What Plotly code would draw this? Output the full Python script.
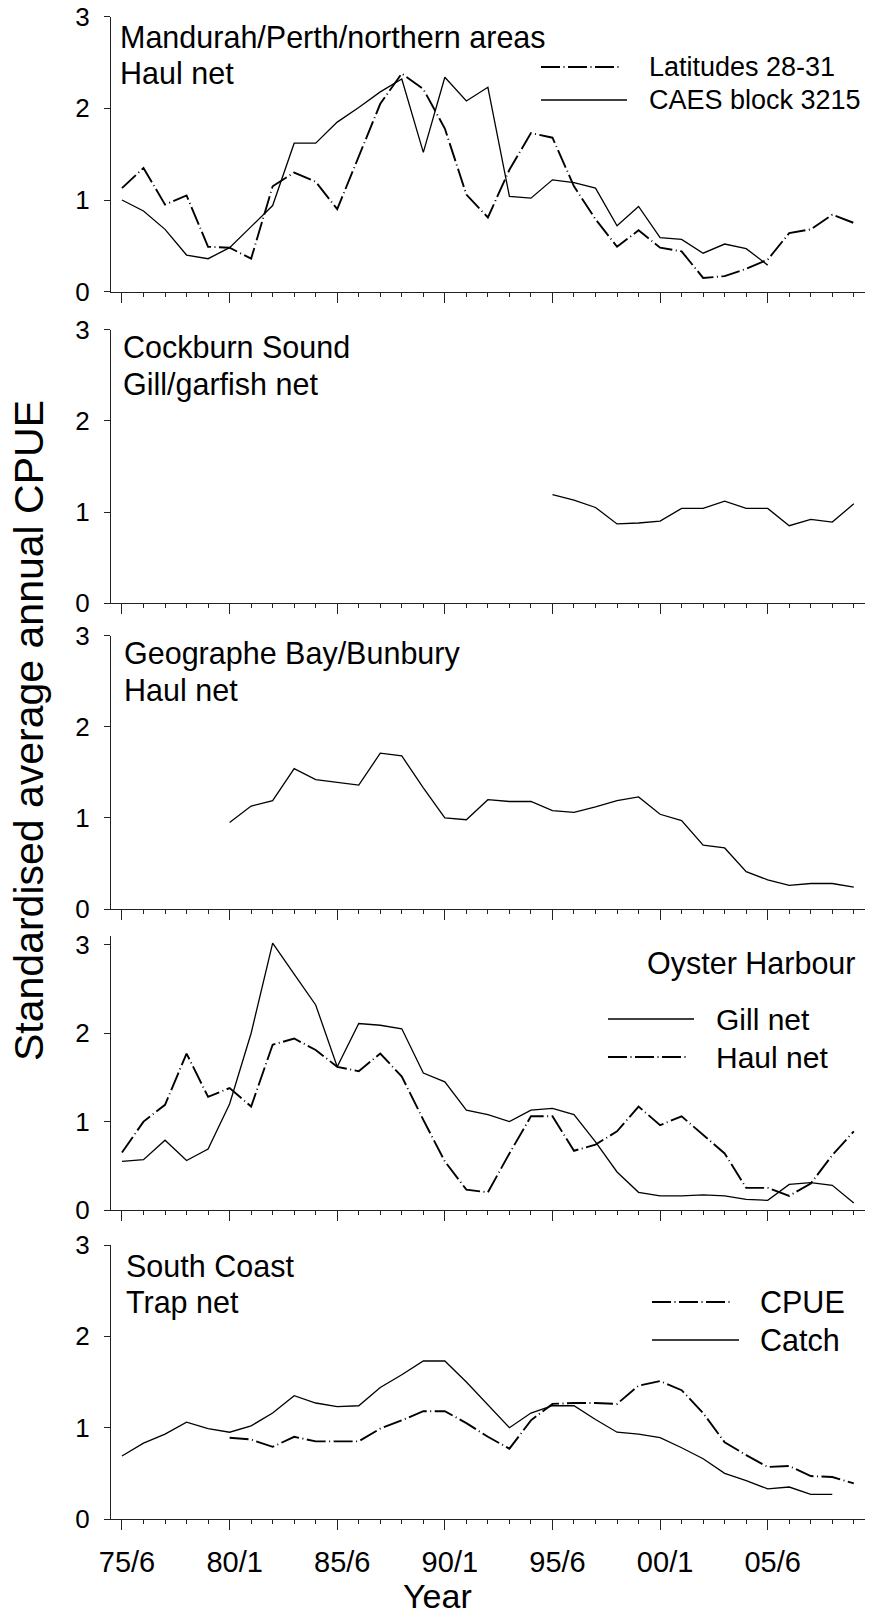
import plotly.graph_objects as go

W, H = 869, 1618
FONT = "Liberation Sans, Arial, Helvetica, sans-serif"

# ---- data -------------------------------------------------------------
# Mandurah/Perth/northern areas, haul net
lat_years = list(range(1975, 2010))
lat_28_31 = [1.13, 1.35, 0.95, 1.05, 0.49, 0.48, 0.36, 1.15, 1.30, 1.20,
             0.90, 1.48, 2.05, 2.38, 2.21, 1.78, 1.06, 0.81, 1.33, 1.73,
             1.68, 1.15, 0.79, 0.49, 0.67, 0.48, 0.44, 0.15, 0.17, 0.25,
             0.35, 0.64, 0.68, 0.84, 0.75]
caes_years = list(range(1975, 2006))
caes_3215 = [1.00, 0.88, 0.68, 0.40, 0.36, 0.48, 0.71, 0.94, 1.62, 1.62,
             1.85, 2.01, 2.18, 2.32, 1.52, 2.34, 2.08, 2.23, 1.04, 1.02,
             1.22, 1.19, 1.13, 0.72, 0.93, 0.59, 0.57, 0.42, 0.52, 0.47,
             0.29]

# Cockburn Sound, gill/garfish net
cockburn_years = list(range(1995, 2010))
cockburn = [1.19, 1.13, 1.05, 0.87, 0.88, 0.90, 1.04, 1.04, 1.12, 1.04,
            1.04, 0.85, 0.92, 0.89, 1.09]

# Geographe Bay/Bunbury, haul net
geographe_years = list(range(1980, 2010))
geographe = [0.95, 1.13, 1.19, 1.54, 1.42, 1.39, 1.36, 1.71, 1.68, 1.33,
             1.00, 0.98, 1.20, 1.18, 1.18, 1.08, 1.06, 1.12, 1.19, 1.23,
             1.04, 0.97, 0.70, 0.67, 0.41, 0.32, 0.26, 0.28, 0.28, 0.24]

# Oyster Harbour
oyster_years = list(range(1975, 2010))
oyster_gill = [0.55, 0.57, 0.79, 0.56, 0.69, 1.20, 2.00, 3.02, 2.67, 2.32,
               1.62, 2.11, 2.09, 2.05, 1.55, 1.45, 1.13, 1.08, 1.00, 1.13,
               1.15, 1.08, 0.77, 0.43, 0.20, 0.16, 0.16, 0.17, 0.16, 0.12,
               0.11, 0.29, 0.31, 0.28, 0.08]
oyster_haul = [0.65, 1.00, 1.19, 1.77, 1.28, 1.38, 1.17, 1.87, 1.94, 1.81,
               1.62, 1.57, 1.77, 1.51, 1.02, 0.55, 0.23, 0.20, 0.64, 1.06,
               1.06, 0.67, 0.74, 0.89, 1.17, 0.96, 1.06, 0.85, 0.64, 0.25,
               0.25, 0.16, 0.30, 0.62, 0.89]

# South Coast, trap net
catch_years = list(range(1975, 2009))
south_catch = [0.69, 0.83, 0.93, 1.06, 0.99, 0.95, 1.02, 1.16, 1.35, 1.27,
               1.23, 1.24, 1.44, 1.58, 1.73, 1.73, 1.50, 1.25, 1.00, 1.16,
               1.24, 1.24, 1.09, 0.95, 0.93, 0.89, 0.78, 0.66, 0.50, 0.42,
               0.33, 0.35, 0.27, 0.27]
cpue_years = list(range(1980, 2010))
south_cpue = [0.89, 0.87, 0.79, 0.90, 0.85, 0.85, 0.85, 0.99, 1.08, 1.18,
              1.18, 1.05, 0.90, 0.77, 1.08, 1.26, 1.27, 1.27, 1.26, 1.46,
              1.51, 1.41, 1.16, 0.84, 0.70, 0.57, 0.58, 0.47, 0.46, 0.39]

tick_years = [1975, 1980, 1985, 1990, 1995, 2000, 2005]
tick_labels = ["75/6", "80/1", "85/6", "90/1", "95/6", "00/1", "05/6"]
y_ticks = [0, 1, 2, 3]

# ---- styling ----------------------------------------------------------
AX = "#222222"
SOLID = dict(color="black", width=1.3)
DASH = dict(color="black", width=1.9, dash="19px,3.5px,1px,3.5px")

# panel extents in pixels (top, bottom) and y upper limit
panels = [
    (16.7, 291.7, 3.0),
    (329.5, 603.3, 3.0),
    (635.7, 909.0, 3.0),
    (936.0, 1210.0, 3.1),
    (1245.0, 1519.0, 3.0),
]
X_LEFT, X_RIGHT = 111, 865


def px(x):
    return x / W


def py(y):
    return 1 - y / H


fig = go.Figure()


def add_line(n, xs, ys, style):
    sfx = "" if n == 1 else str(n)
    fig.add_trace(go.Scatter(x=xs, y=ys, mode="lines", line=style,
                             xaxis="x" + sfx, yaxis="y" + sfx,
                             showlegend=False, hoverinfo="skip"))


add_line(1, caes_years, caes_3215, SOLID)
add_line(1, lat_years, lat_28_31, DASH)
add_line(2, cockburn_years, cockburn, SOLID)
add_line(3, geographe_years, geographe, SOLID)
add_line(4, oyster_years, oyster_gill, SOLID)
add_line(4, oyster_years, oyster_haul, DASH)
add_line(5, catch_years, south_catch, SOLID)
add_line(5, cpue_years, south_cpue, DASH)

layout = dict(
    template="none",
    width=W, height=H,
    margin=dict(l=0, r=0, t=0, b=0, pad=0, autoexpand=False),
    paper_bgcolor="white", plot_bgcolor="white",
    font=dict(family=FONT, color="black"),
    showlegend=False,
)

for i, (top, bot, ymax) in enumerate(panels, start=1):
    sfx = "" if i == 1 else str(i)
    layout["xaxis" + sfx] = dict(
        domain=[px(X_LEFT), px(X_RIGHT)],
        range=[1974.49, 2009.52],
        anchor="y" + sfx,
        automargin=False,
        showline=True, linecolor=AX, linewidth=1.3,
        showgrid=False, zeroline=False,
        ticks="outside", ticklen=10, tickwidth=1.3, tickcolor=AX,
        tickmode="array", tickvals=tick_years, ticktext=tick_labels,
        showticklabels=(i == 5),
        tickfont=dict(size=29, family=FONT, color="black"),
        ticklabelstandoff=7, ticklabelshift=5,
        minor=dict(ticks="outside", ticklen=4, tickwidth=1.1,
                   tickcolor=AX, tick0=1975, dtick=1, showgrid=False),
    )
    layout["yaxis" + sfx] = dict(
        domain=[py(bot), py(top)],
        range=[0, ymax],
        anchor="x" + sfx,
        automargin=False,
        showline=True, linecolor=AX, linewidth=1.3,
        showgrid=False, zeroline=False,
        ticks="outside", ticklen=6, tickwidth=1.3, tickcolor=AX,
        tickmode="array", tickvals=y_ticks,
        tickfont=dict(size=26, family=FONT, color="black"),
        ticklabelstandoff=9,
    )

fig.update_layout(**layout)

annotations = []
shapes = []


def text(x, y, s, size=30.5, xanchor="left", yanchor="middle", angle=0):
    annotations.append(dict(
        x=px(x), y=py(y), xref="paper", yref="paper", text=s,
        showarrow=False, xanchor=xanchor, yanchor=yanchor,
        textangle=angle, font=dict(size=size, family=FONT, color="black"),
    ))


def sample(x0, x1, y, style):
    line = dict(color=style["color"], width=style["width"])
    if "dash" in style:
        line["dash"] = style["dash"]
    shapes.append(dict(type="line", xref="paper", yref="paper",
                       x0=px(x0), x1=px(x1), y0=py(y), y1=py(y), line=line))


# panel headings
text(118, 37, "Mandurah/Perth/northern areas")
text(118, 73, "Haul net")
text(121, 347, "Cockburn Sound")
text(121, 384, "Gill/garfish net")
text(122, 654, "Geographe Bay/Bunbury")
text(122, 690, "Haul net")
text(857, 964, "Oyster Harbour", xanchor="right")
text(124, 1266, "South Coast")
text(124, 1302, "Trap net")

# keys
sample(541, 620, 67, DASH)
text(647, 67, "Latitudes 28-31", size=27)
sample(541, 627, 100, SOLID)
text(647, 100, "CAES block 3215", size=27)

sample(608, 694, 1019, SOLID)
text(714, 1019, "Gill net", size=30)
sample(608, 687, 1057, DASH)
text(714, 1057, "Haul net", size=30)

sample(652, 732, 1302, DASH)
text(758, 1302, "CPUE", size=30.5)
sample(652, 739, 1340, SOLID)
text(758, 1340, "Catch", size=30.5)

# axis titles
text(437, 1617, "Year", size=34, xanchor="center", yanchor="bottom")
text(29, 731, "Standardised average annual CPUE", size=41,
     xanchor="center", angle=-90)

fig.update_layout(annotations=annotations, shapes=shapes)

fig.write_html("out.html")
